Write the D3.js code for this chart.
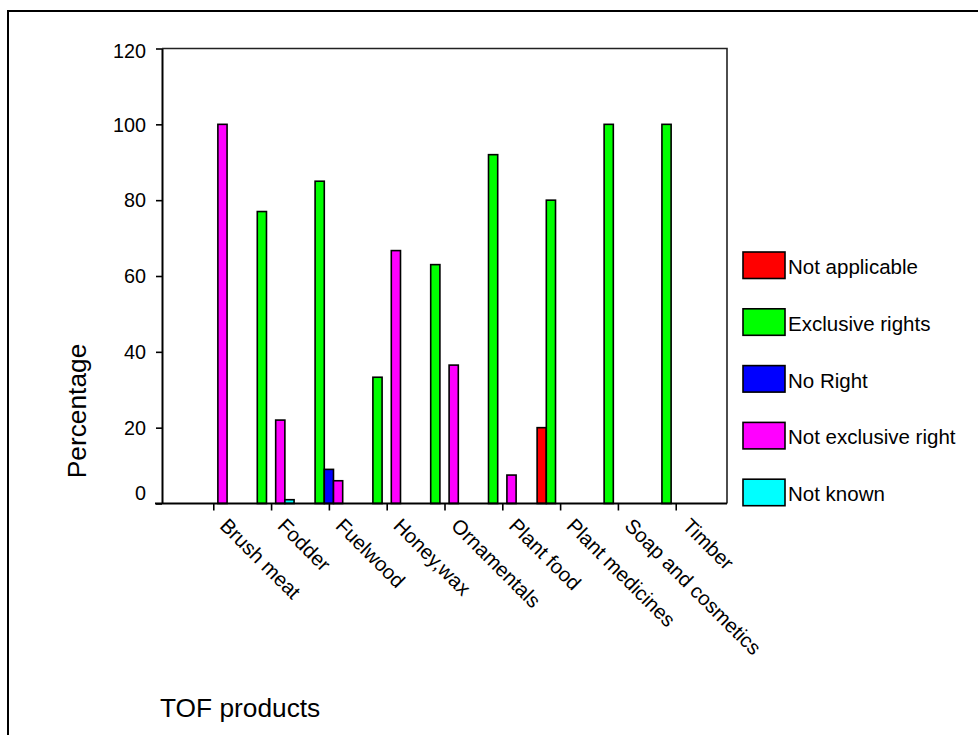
<!DOCTYPE html>
<html>
<head>
<meta charset="utf-8">
<script src="https://cdn.jsdelivr.net/npm/d3@7"></script>
<style>
  html, body { margin: 0; padding: 0; background: #fff; }
  svg { display: block; font-family: "Liberation Sans", Arial, sans-serif; }
</style>
</head>
<body>
<svg id="chart" width="978" height="735"></svg>
<script>
// ---- data ----
const categories = ["Brush meat", "Fodder", "Fuelwood", "Honey,wax", "Ornamentals",
  "Plant food", "Plant medicines", "Soap and cosmetics", "Timber"];
const seriesNames = ["Not applicable", "Exclusive rights", "No Right", "Not exclusive right", "Not known"];
const seriesColors = ["#ff0000", "#00ff00", "#0000ff", "#ff00ff", "#00ffff"];
const notApplicable     = [0, 0, 0, 0, 0, 0, 20, 0, 0];
const exclusiveRights   = [0, 77, 85, 33.3, 63, 92, 80, 100, 100];
const noRight           = [0, 0, 9, 0, 0, 0, 0, 0, 0];
const notExclusiveRight = [100, 22, 6, 66.7, 36.5, 7.5, 0, 0, 0];
const notKnown          = [0, 1, 0, 0, 0, 0, 0, 0, 0];
const yTicks = [0, 20, 40, 60, 80, 100, 120];
const yTitle = "Percentage";
const xTitle = "TOF products";

const seriesValues = [notApplicable, exclusiveRights, noRight, notExclusiveRight, notKnown];

// ---- layout ----
const svg = d3.select("#chart");
const plot = { left: 162, right: 727, top: 48.5, bottom: 503.5 };

// outer frame
svg.append("rect")
  .attr("x", 8).attr("y", 11).attr("width", 1100).attr("height", 1000)
  .attr("fill", "none").attr("stroke", "#000").attr("stroke-width", 2);

const x = d3.scalePoint().domain(categories).range([plot.left, plot.right]).padding(0.887);
const inner = d3.scaleBand().domain(seriesNames).range([-23, 23]);
const y = d3.scaleLinear().domain([0, 120]).range([plot.bottom, plot.top]);
const color = d3.scaleOrdinal().domain(seriesNames).range(seriesColors);

// top/right frame of plot area
svg.append("path")
  .attr("d", `M${plot.left},${plot.top}H${plot.right}V${plot.bottom}`)
  .attr("fill", "none").attr("stroke", "#222").attr("stroke-width", 1.6);

// bars
const barData = [];
seriesNames.forEach((s, si) => {
  categories.forEach((c, ci) => {
    const v = seriesValues[si][ci];
    if (v > 0) barData.push({ series: s, cat: c, value: v });
  });
});
svg.append("g").selectAll("rect")
  .data(barData)
  .join("rect")
  .attr("x", d => x(d.cat) + inner(d.series))
  .attr("width", inner.bandwidth())
  .attr("y", d => y(d.value))
  .attr("height", d => y(0) - y(d.value))
  .attr("fill", d => color(d.series))
  .attr("stroke", "#000")
  .attr("stroke-width", 1.6);

// y axis
const yAxis = svg.append("g")
  .attr("transform", `translate(${plot.left},0)`)
  .call(d3.axisLeft(y).tickValues(yTicks).tickSize(6).tickSizeOuter(0).tickPadding(10));
yAxis.select(".domain").attr("stroke", "#000").attr("stroke-width", 2);
yAxis.selectAll(".tick line").attr("stroke", "#000").attr("stroke-width", 1.6);
yAxis.selectAll(".tick text")
  .attr("font-size", 19.8).attr("fill", "#000")
  .attr("font-family", "Liberation Sans, Arial, sans-serif")
  .attr("dy", d => d === 0 ? "-0.18em" : (d === 120 ? "0.47em" : "0.34em"));

// x axis
const xAxis = svg.append("g")
  .attr("transform", `translate(0,${plot.bottom})`)
  .call(d3.axisBottom(x).tickSize(7).tickSizeOuter(0));
xAxis.select(".domain").attr("stroke", "#000").attr("stroke-width", 2)
  .attr("d", `M${plot.left - 7},0H${plot.right}`);
xAxis.selectAll(".tick line").attr("stroke", "#000").attr("stroke-width", 1.6);
xAxis.selectAll(".tick text")
  .attr("font-size", 20.3).attr("fill", "#000")
  .attr("font-family", "Liberation Sans, Arial, sans-serif")
  .attr("text-anchor", "start")
  .attr("x", 0).attr("y", 0).attr("dy", 0)
  .attr("transform", "translate(5,23.5) rotate(45)");

// axis titles
svg.append("text")
  .attr("transform", "translate(86,411) rotate(-90)")
  .attr("text-anchor", "middle")
  .attr("font-size", 26.3).attr("fill", "#000")
  .text(yTitle);
svg.append("text")
  .attr("x", 160).attr("y", 717)
  .attr("font-size", 26.3).attr("fill", "#000")
  .text(xTitle);

// legend
const legend = svg.append("g");
const lg = legend.selectAll("g")
  .data(seriesNames)
  .join("g")
  .attr("transform", (d, i) => `translate(743,${252 + i * 56.8})`);
lg.append("rect")
  .attr("width", 42).attr("height", 26.5)
  .attr("fill", d => color(d))
  .attr("stroke", "#000").attr("stroke-width", 1.6);
lg.append("text")
  .attr("x", 45).attr("y", 22)
  .attr("font-size", 20.5).attr("fill", "#000")
  .text(d => d);
</script>
</body>
</html>
